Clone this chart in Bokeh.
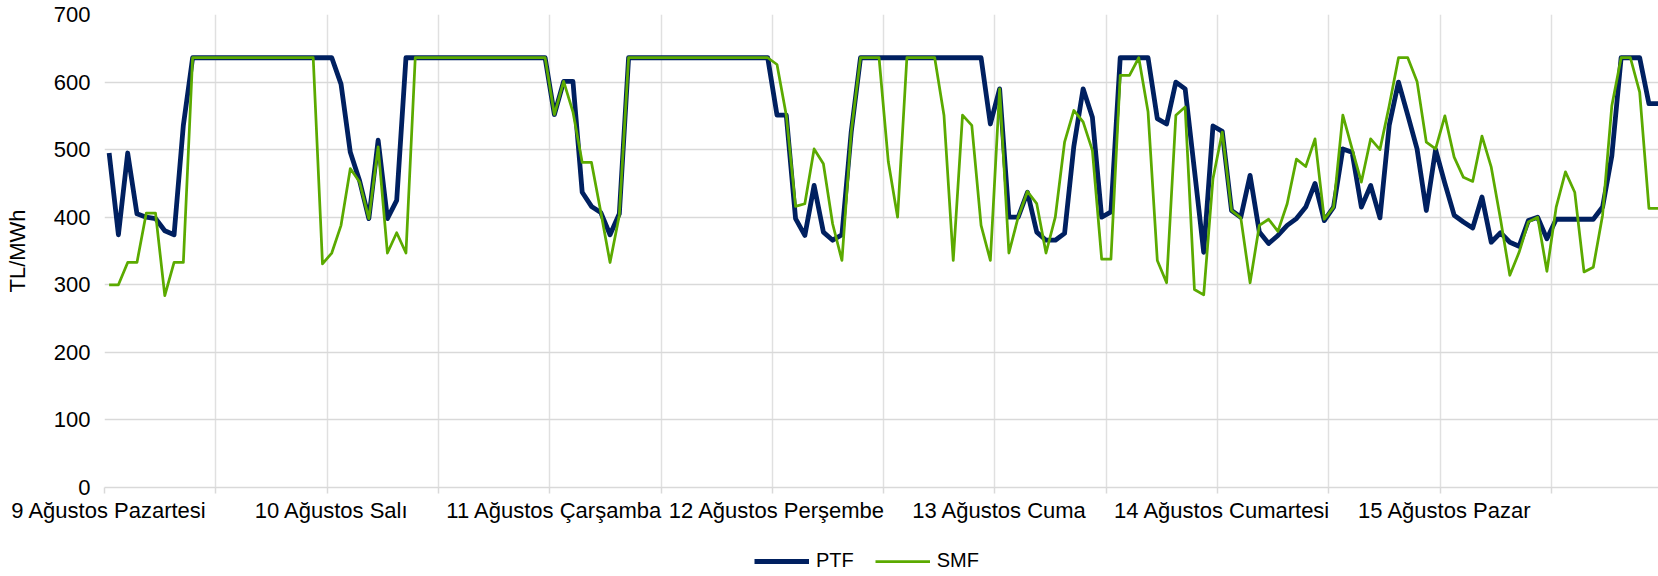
from bokeh.plotting import figure
from bokeh.models import Range1d, FixedTicker, Legend, LegendItem
from bokeh.layouts import column
from bokeh.embed import file_html
from bokeh.resources import INLINE

# ---- data ---------------------------------------------------------------
day_labels = ["9 Ağustos Pazartesi", "10 Ağustos Salı", "11 Ağustos Çarşamba",
              "12 Ağustos Perşembe", "13 Ağustos Cuma", "14 Ağustos Cumartesi",
              "15 Ağustos Pazar"]

ptf = [495, 374, 495, 405, 400, 398, 380, 374, 536,
       636, 636, 636, 636, 636, 636, 636, 636, 636, 636, 636, 636, 636, 636, 636, 636,
       597, 496, 454, 398, 514, 398, 425,
       636, 636, 636, 636, 636, 636, 636, 636, 636, 636, 636, 636, 636, 636, 636, 636,
       552, 601, 601, 437, 416, 407, 374, 405,
       636, 636, 636, 636, 636, 636, 636, 636, 636, 636, 636, 636, 636, 636, 636, 636,
       551, 551, 398, 373, 447, 378, 366, 374, 526,
       636, 636, 636, 636, 636, 636, 636, 636, 636, 636, 636, 636, 636, 636,
       538, 590, 400, 400, 437, 378, 366, 366, 376, 505, 590, 548, 400, 408,
       636, 636, 636, 636,
       546, 538, 600, 590, 470, 348, 535, 527, 410, 400, 462, 378, 361, 373, 388,
       398, 415, 450, 395, 415, 501, 496, 415, 447, 399, 536, 600, 551, 501, 410,
       500, 450, 403, 393, 384, 430, 363, 377, 363, 357, 395, 400, 368, 397, 397,
       397, 397, 397, 415, 491,
       636, 636, 636, 568, 568]

smf = [300, 300, 333, 333, 406, 406, 284, 333, 333,
       636, 636, 636, 636, 636, 636, 636, 636, 636, 636, 636, 636, 636, 636,
       331, 347, 388, 472, 452, 398, 504, 347, 377, 347,
       636, 636, 636, 636, 636, 636, 636, 636, 636, 636, 636, 636, 636, 636, 636,
       552, 601, 556, 481, 481, 408, 333, 403,
       636, 636, 636, 636, 636, 636, 636, 636, 636, 636, 636, 636, 636, 636, 636, 636,
       626, 551, 416, 420, 501, 479, 390, 336, 526,
       636, 636, 636,
       482, 400,
       636, 636, 636, 636,
       551, 336, 551, 536, 388, 336, 590, 347, 400, 438, 420, 347, 400, 511, 558,
       541, 499, 338, 338, 610, 610, 636, 556, 336, 303, 551, 563, 293, 285, 457,
       526, 410, 399, 303, 388, 397, 379, 420, 486, 475, 516, 397, 415, 551, 501,
       452, 516, 500, 565, 636, 636, 601, 511, 501, 550, 489, 459, 453, 520, 474,
       397, 314, 348, 393, 400, 320, 415, 467, 437, 319, 326, 403, 565, 636, 636,
       585, 413, 413]

y_ticks = [0, 100, 200, 300, 400, 500, 600, 700]
series_names = ["PTF", "SMF"]

assert len(ptf) == 168 and len(smf) == 168
hours = list(range(len(ptf)))
day_pos = [24 * k for k in range(len(day_labels))]
boundaries = [-0.5 + 12 * k for k in range(14)]

# ---- style ---------------------------------------------------------------
FONT = "Liberation Sans"
FS = "22px"
GRID = "#d9d9d9"
PTF_COLOR = "#002060"
SMF_COLOR = "#5BAA00"
PTF_W = 4.8
SMF_W = 2.75

# ---- main figure ----------------------------------------------------------
p = figure(width=1658, height=537, output_backend="svg", toolbar_location=None,
           x_range=Range1d(-0.5, 167.03), y_range=Range1d(0, 700),
           min_border_left=104, min_border_right=0, min_border_top=14,
           min_border_bottom=50)
p.outline_line_color = None
p.background_fill_color = "white"
p.border_fill_color = "white"

p.line(hours, ptf, line_color=PTF_COLOR, line_width=PTF_W, line_join="round")
p.line(hours, smf, line_color=SMF_COLOR, line_width=SMF_W, line_join="round")

# y axis
p.yaxis.ticker = FixedTicker(ticks=y_ticks)
p.yaxis.axis_line_color = None
p.yaxis.major_tick_line_color = None
p.yaxis.minor_tick_line_color = None
p.yaxis.major_tick_out = 0
p.yaxis.major_tick_in = 0
p.yaxis.major_label_standoff = 14
p.yaxis.major_label_text_font = FONT
p.yaxis.major_label_text_font_size = FS
p.yaxis.major_label_text_color = "#000000"
p.yaxis.axis_label = "TL/MWh"
p.yaxis.axis_label_text_font = FONT
p.yaxis.axis_label_text_font_size = FS
p.yaxis.axis_label_text_font_style = "normal"
p.yaxis.axis_label_text_color = "#000000"
p.yaxis.axis_label_standoff = 21

# x axis
p.xaxis.ticker = FixedTicker(ticks=day_pos, minor_ticks=boundaries)
p.xaxis.major_label_overrides = {pos: lab for pos, lab in zip(day_pos, day_labels)}
p.xaxis.major_tick_line_color = None
p.xaxis.major_tick_out = 0
p.xaxis.major_tick_in = 0
p.xaxis.minor_tick_line_color = GRID
p.xaxis.minor_tick_line_width = 1.5
p.xaxis.minor_tick_out = 6
p.xaxis.minor_tick_in = 0
p.xaxis.axis_line_color = GRID
p.xaxis.axis_line_width = 1.5
p.xaxis.major_label_standoff = 4
p.xaxis.major_label_text_font = FONT
p.xaxis.major_label_text_font_size = FS
p.xaxis.major_label_text_color = "#000000"

# grids
p.xgrid.ticker = FixedTicker(ticks=boundaries)
p.xgrid.grid_line_color = "#e0e0e0"
p.xgrid.grid_line_width = 1.5
p.ygrid.grid_line_color = GRID
p.ygrid.grid_line_width = 1.5

# ---- legend strip ----------------------------------------------------------
lg = figure(width=1658, height=39, output_backend="svg", toolbar_location=None,
            x_range=Range1d(0, 1), y_range=Range1d(0, 1),
            x_axis_location=None, y_axis_location=None,
            min_border_left=0, min_border_right=0, min_border_top=0,
            min_border_bottom=0)
lg.outline_line_color = None
lg.grid.visible = False
lg.border_fill_color = "white"
k_ptf = lg.line([-2, -1], [-2, -2], line_color=PTF_COLOR, line_width=PTF_W)
k_smf = lg.line([-2, -1], [-2, -2], line_color=SMF_COLOR, line_width=SMF_W)

legend = Legend(items=[LegendItem(label=series_names[0], renderers=[k_ptf]),
                       LegendItem(label=series_names[1], renderers=[k_smf])],
                orientation="horizontal", location=(650, 4),
                glyph_width=55, glyph_height=20, label_standoff=7, spacing=21,
                padding=2, margin=0,
                label_text_font=FONT, label_text_font_size="20px",
                label_text_color="#000000",
                border_line_color=None, background_fill_alpha=0)
lg.add_layout(legend, "center")

layout = column(p, lg, spacing=0)
open("out.html", "w").write(file_html(layout, INLINE))
